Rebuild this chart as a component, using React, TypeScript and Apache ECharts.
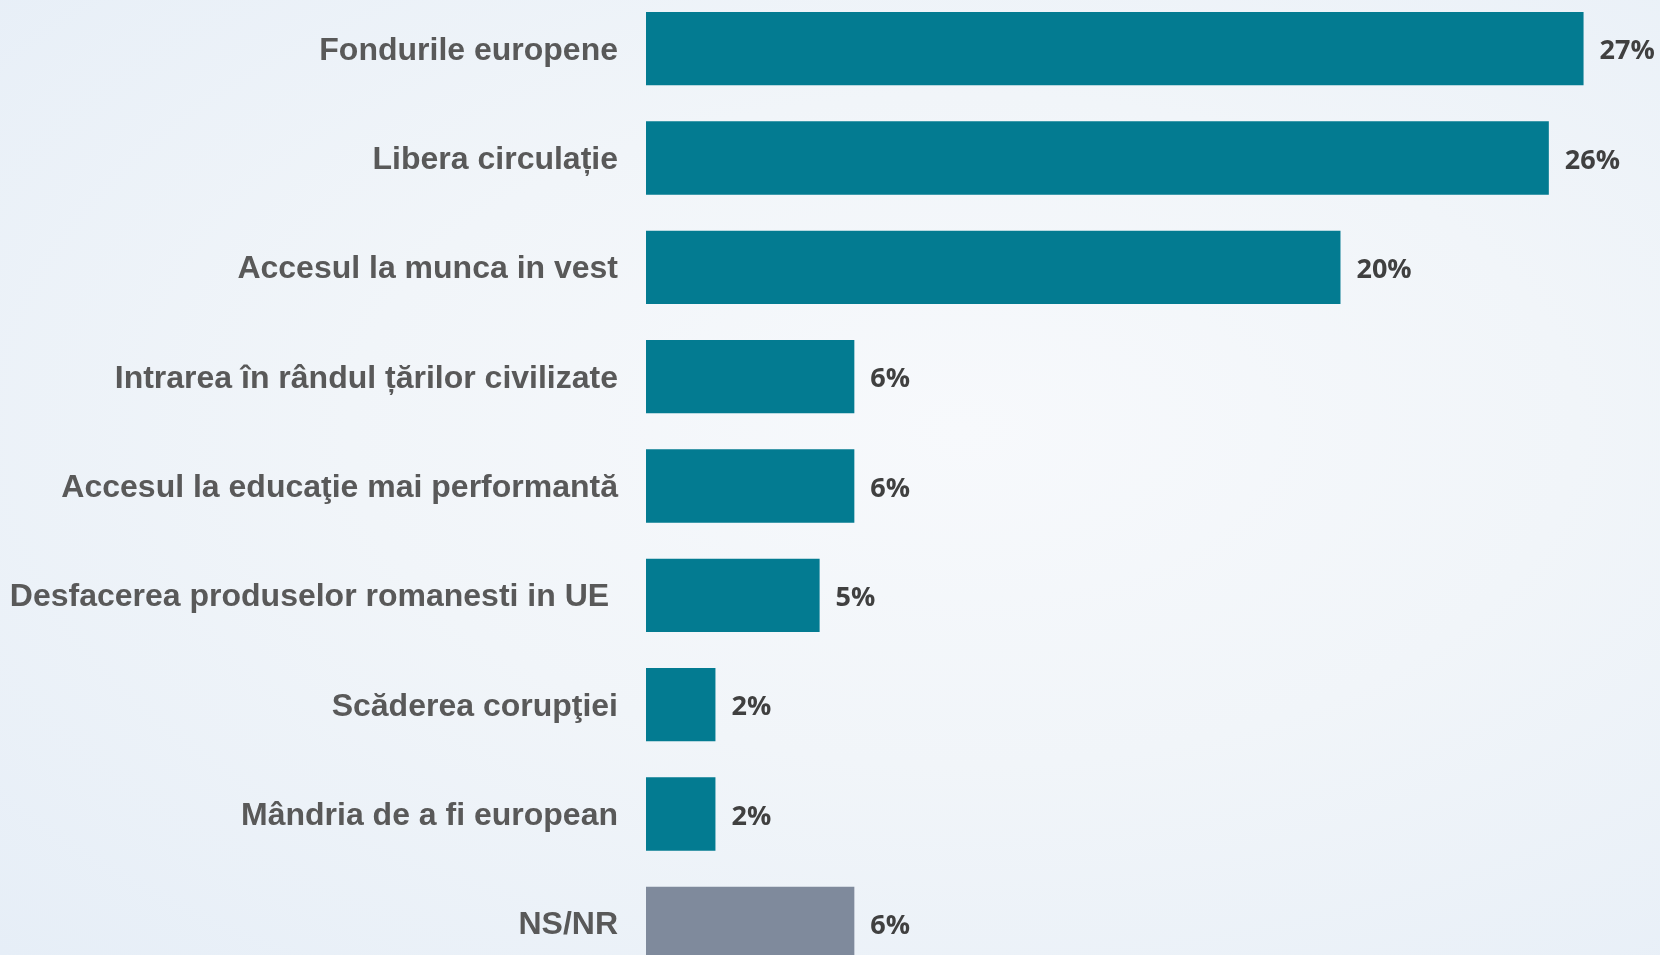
import React, { useEffect, useRef } from "react";
import * as echarts from "echarts";

const categories = [
  "Fondurile europene",
  "Libera circulație",
  "Accesul la munca in vest",
  "Intrarea în rândul țărilor civilizate",
  "Accesul la educaţie mai performantă",
  "Desfacerea produselor romanesti in UE\u00a0",
  "Scăderea corupţiei",
  "Mândria de a fi european",
  "NS/NR",
];
const values = [27, 26, 20, 6, 6, 5, 2, 2, 6];
const barColors = [
  "#037b91", "#037b91", "#037b91", "#037b91", "#037b91",
  "#037b91", "#037b91", "#037b91", "#7f8a9c",
];

export default function App() {
  const ref = useRef<HTMLDivElement>(null);
  useEffect(() => {
    if (!ref.current) return;
    const chart = echarts.init(ref.current, undefined, { renderer: "svg" });
    chart.setOption({
      animation: false,
      backgroundColor: "transparent",
      grid: { left: 646, right: 7, top: 0, bottom: 0, containLabel: false },
      xAxis: {
        type: "value",
        min: 0,
        max: 29,
        show: false,
      },
      yAxis: {
        type: "category",
        inverse: true,
        data: categories,
        axisLine: { show: false },
        axisTick: { show: false },
        splitLine: { show: false },
        axisLabel: {
          margin: 28,
          fontSize: 32,
          fontWeight: "bold",
          fontFamily: "'Liberation Sans', Arial, sans-serif",
          color: "#595959",
        },
      },
      series: [
        {
          type: "bar",
          barCategoryGap: "33%",
          data: values.map((v, i) => ({ value: v, itemStyle: { color: barColors[i] } })),
          label: {
            show: true,
            position: "right",
            distance: 16,
            formatter: "{c}%",
            fontSize: 27,
            fontWeight: "bold",
            fontFamily: "'Open Sans', sans-serif",
            color: "#404040",
          },
        },
      ],
    });
    return () => chart.dispose();
  }, []);
  return (
    <div
      style={{
        position: "fixed",
        left: 0,
        top: 0,
        width: 1660,
        height: 955,
        overflow: "hidden",
        background:
          "radial-gradient(ellipse at 58% 45%, #f7f9fc 0%, #f1f5f9 45%, #e6eef7 100%)",
      }}
    >
      <div
        ref={ref}
        style={{ position: "absolute", left: 0, top: -6, width: 1660, height: 984 }}
      />
    </div>
  );
}
